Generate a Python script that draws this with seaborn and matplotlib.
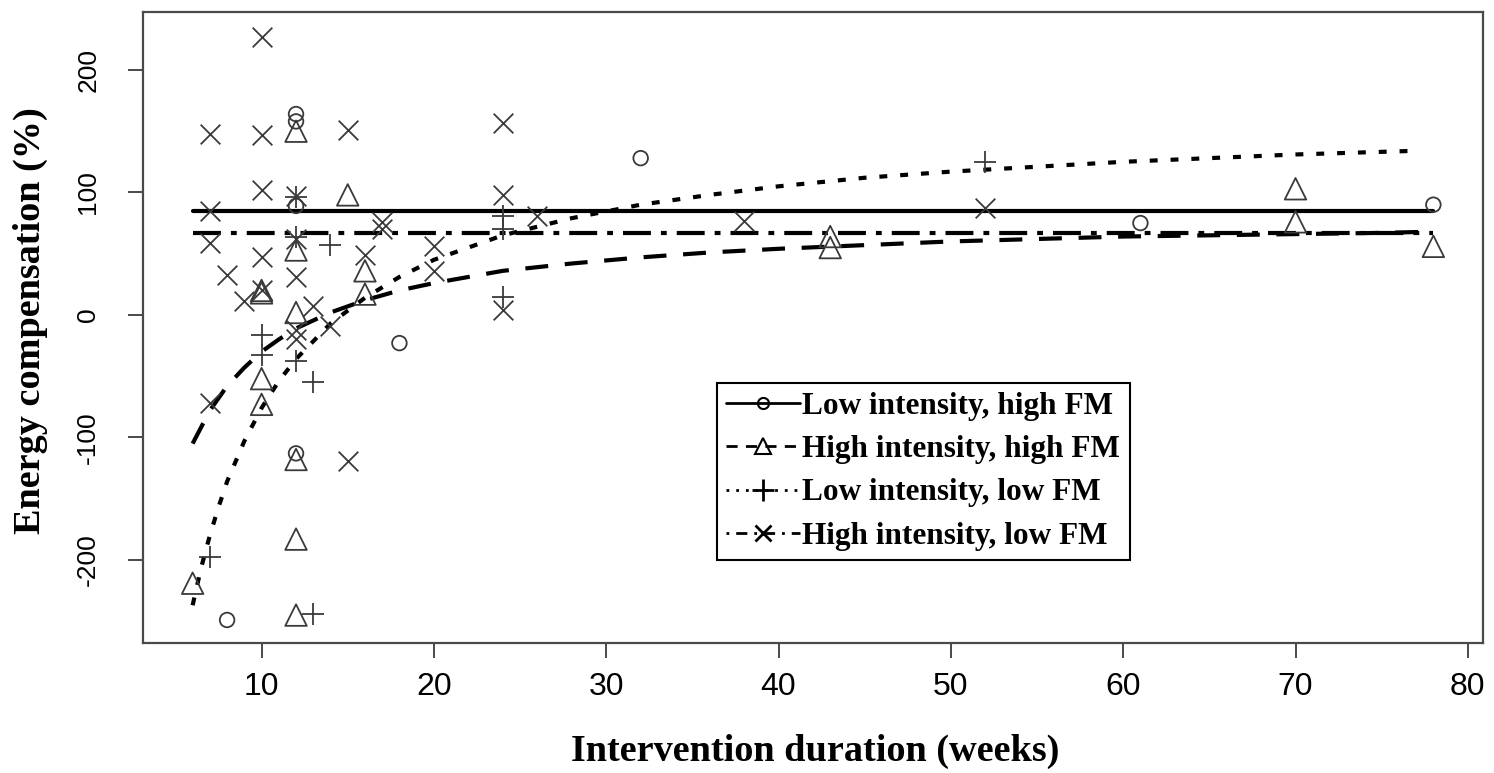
import matplotlib
matplotlib.use("Agg")
import matplotlib.pyplot as plt
from matplotlib.lines import Line2D
import seaborn as sns

# ---------------- data ----------------
# Low intensity, high FM (circles)
lihf_x = [12, 12, 12, 32, 18, 8, 12, 61, 78]
lihf_y = [164, 158, 89, 128, -23, -249, -113, 75, 90]

# High intensity, high FM (triangles)
hihf_x = [12, 15, 12, 10, 10, 16, 16, 12, 10, 10, 12, 12, 12, 6, 43, 43, 70, 70, 78]
hihf_y = [150, 98, 53, 20, 18, 36, 17, 2, -52, -73, -118, -183, -245, -219, 64, 55, 103, 76, 56]

# Low intensity, low FM (plus)
lilf_x = [52, 14, 24, 24, 24, 12, 12, 10, 10, 12, 13, 7, 13]
lilf_y = [125, 57, 81, 70, 15, 96, 64, -16, -33, -38, -55, -198, -244]

# High intensity, low FM (crosses)
hilf_x = [10, 7, 10, 15, 24, 10, 12, 24, 7, 7, 12, 17, 17, 10, 20, 16, 12, 8, 9, 10,
          20, 38, 52, 24, 26, 13, 14, 12, 12, 7, 15]
hilf_y = [227, 148, 147, 151, 157, 102, 97, 98, 85, 59, 62, 76, 70, 47, 56, 49, 31, 33, 11, 20,
          36, 77, 87, 4, 81, 7, -9, -12, -20, -72, -119]

# fitted lines
fit_lihf_x = [6, 78]
fit_lihf_y = [85, 85]

fit_hihf_x = [6, 7, 8, 9, 10, 11, 12, 14, 16, 18, 20, 24, 28, 32, 36, 40, 45, 50, 55, 60, 65, 70, 75, 78]
fit_hihf_y = [-105, -78, -58, -43, -30, -20, -11, 2, 12, 20, 26, 36, 42, 47, 51, 54, 57, 60, 62, 64, 65, 66, 67, 68]

fit_lilf_x = [6, 6.5, 7, 7.5, 8, 9, 10, 11, 12, 14, 16, 18, 20, 24, 28, 32, 36, 40, 45, 50, 55, 60, 65, 70, 77]
fit_lilf_y = [-237, -206, -180, -157, -136, -103, -76, -54, -36, -7, 14, 31, 45, 65, 79, 90, 98, 105, 112, 117, 121, 125, 128, 131, 134]

fit_hilf_x = [6, 78]
fit_hilf_y = [67, 67]

labels = ["Low intensity, high FM", "High intensity, high FM",
          "Low intensity, low FM", "High intensity, low FM"]
x_ticks = [10, 20, 30, 40, 50, 60, 70, 80]
y_ticks = [-200, -100, 0, 100, 200]

# ---------------- styling ----------------
sns.set_style("ticks")
plt.rcParams['font.family'] = ['Liberation Sans', 'DejaVu Sans']
plt.rcParams['text.color'] = 'black'

W, H = 1494, 773
fig = plt.figure(figsize=(W / 100, H / 100), dpi=100)
ax = fig.add_axes([143 / W, 1 - 643 / H, (1483 - 143) / W, (643 - 12) / H])

pc = '#3a3a3a'
lw_line = 3.0
ls_dashed = (0, (5.5, 4.0))
ls_dotted = (0, (1.9, 3.1))
ls_dotdash = (0, (6.7, 2.4, 1.4, 2.4))

# lines
sns.lineplot(x=fit_lihf_x, y=fit_lihf_y, color='black', lw=lw_line, linestyle='-', ax=ax, zorder=2)
sns.lineplot(x=fit_hihf_x, y=fit_hihf_y, color='black', lw=lw_line, linestyle=ls_dashed, ax=ax, zorder=2)
sns.lineplot(x=fit_lilf_x, y=fit_lilf_y, color='black', lw=lw_line, linestyle=ls_dotted, ax=ax, zorder=2)
sns.lineplot(x=fit_hilf_x, y=fit_hilf_y, color='black', lw=lw_line, linestyle=ls_dotdash, ax=ax, zorder=2)

# points
sns.scatterplot(x=lihf_x, y=lihf_y, marker='o', s=110, color=pc, facecolor='none',
                edgecolor=pc, linewidth=1.3, ax=ax, zorder=3)
sns.scatterplot(x=hihf_x, y=hihf_y, marker='^', s=240, color=pc, facecolor='none',
                edgecolor=pc, linewidth=1.3, ax=ax, zorder=3)
sns.scatterplot(x=lilf_x, y=lilf_y, marker='+', s=270, color=pc, linewidth=1.3, ax=ax, zorder=3)
sns.scatterplot(x=hilf_x, y=hilf_y, marker='x', s=200, color=pc, linewidth=1.3, ax=ax, zorder=3)

ax.set_xlim(3.12, 80.88)
ax.set_ylim(-267.8, 247.3)
ax.set_xticks(x_ticks)
ax.set_yticks(y_ticks)
ax.set_xticklabels([str(v) for v in x_ticks])
ax.set_yticklabels([str(v) for v in y_ticks])

for s in ax.spines.values():
    s.set_visible(True)
    s.set_color('#4a4a4a')
    s.set_linewidth(1.6)

ax.tick_params(axis='both', direction='out', length=10.8, width=1.4, color='#4a4a4a',
               labelcolor='black')
ax.tick_params(axis='x', pad=10, labelsize=23)
ax.tick_params(axis='y', pad=20, labelsize=19, labelrotation=90)
plt.setp(ax.get_yticklabels(), va='center')

serif = ['Liberation Serif', 'DejaVu Serif']
ax.set_xlabel('Intervention duration (weeks)', fontfamily=serif, fontweight='bold',
              fontsize=27.5, color='black')
ax.set_ylabel('Energy compensation (%)', fontfamily=serif, fontweight='bold',
              fontsize=27.5, color='black')
ax.xaxis.set_label_coords((815 - 143) / 1340, (643 - 751) / 631)
ax.xaxis.label.set_va('center')
ax.yaxis.set_label_coords((30 - 143) / 1340, (643 - 321) / 631)
ax.yaxis.label.set_va('center')

# legend
handles = [
    Line2D([], [], color='black', lw=2, linestyle='-', marker='o', markersize=8,
           markerfacecolor='none', markeredgecolor='black', markeredgewidth=1.5),
    Line2D([], [], color='black', lw=2, linestyle=(0, (4, 3)), marker='^', markersize=11,
           markerfacecolor='none', markeredgecolor='black', markeredgewidth=1.5),
    Line2D([], [], color='black', lw=2, linestyle=(0, (1, 2.5)), marker='+', markersize=16,
           markeredgecolor='black', markeredgewidth=2),
    Line2D([], [], color='black', lw=2, linestyle=(0, (1, 2.5, 4, 2.5)), marker='x', markersize=11,
           markeredgecolor='black', markeredgewidth=2),
]
leg = ax.legend(handles, labels, loc='upper left',
                bbox_to_anchor=(717 / W, 1 - 383 / H), bbox_transform=fig.transFigure,
                borderaxespad=0, frameon=True, fancybox=False, framealpha=1,
                edgecolor='black', handlelength=2.35, handletextpad=0.08,
                labelspacing=0.45, borderpad=0.3,
                prop={'family': serif, 'weight': 'bold', 'size': 22.5})
leg.get_frame().set_linewidth(1.5)

fig.savefig('out.png', dpi=100)
